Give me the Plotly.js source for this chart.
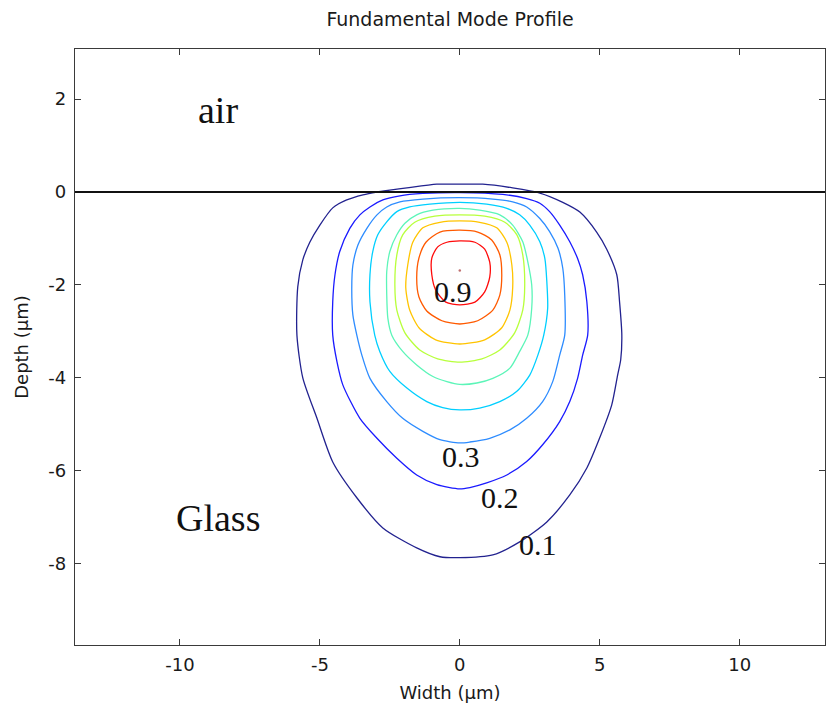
<!DOCTYPE html>
<html>
<head>
<meta charset="utf-8">
<script src="https://cdn.plot.ly/plotly-3.0.1.min.js"></script>
<style>html,body{margin:0;padding:0;background:#fff;}#chart{width:826px;height:712px;}</style>
</head>
<body>
<div id="chart"></div>
<script>
// Contour levels (normalised field of the fundamental mode)
const levels = [0.1, 0.2, 0.3, 0.4, 0.5, 0.6, 0.7, 0.8, 0.9];

// Contour line coordinates (Width µm, Depth µm)
const c1x = [0, 0.82, 1.89, 2.86, 3.68, 4.29, 4.89, 5.25, 5.61, 5.71, 5.79, 5.75, 5.64, 5.43, 5.00, 4.54, 3.93, 3.11, 2.14, 1.18, 0, -0.71, -1.54, -2.75, -3.68, -4.54, -5.11, -5.61, -5.82, -5.79, -5.61, -5.36, -5.00, -4.54, -4.04, -3.46, -2.96, -2.50, -1.89, -0.82, 0];
const c1y = [0.17, 0.17, 0.09, -0.02, -0.22, -0.43, -0.86, -1.23, -1.78, -2.37, -3.08, -3.61, -3.94, -4.58, -5.29, -5.94, -6.52, -7.10, -7.53, -7.81, -7.87, -7.85, -7.66, -7.23, -6.58, -5.81, -4.86, -4.00, -3.08, -2.04, -1.46, -1.08, -0.71, -0.34, -0.17, -0.06, 0.00, 0.04, 0.09, 0.17, 0.17];

const c2x = [0, 1.54, 2.39, 2.86, 3.21, 3.57, 3.93, 4.21, 4.39, 4.54, 4.57, 4.39, 4.21, 3.93, 3.57, 2.96, 2.39, 1.68, 0.96, 0.36, 0, -0.82, -1.54, -2.25, -2.96, -3.57, -4.18, -4.39, -4.54, -4.54, -4.46, -4.29, -3.93, -3.57, -3.21, -2.75, -2.14, -1.32, 0];
const c2y = [-0.01, -0.05, -0.14, -0.24, -0.42, -0.71, -1.07, -1.43, -1.78, -2.36, -3.08, -3.51, -4.01, -4.51, -4.94, -5.44, -5.80, -6.09, -6.26, -6.36, -6.39, -6.30, -6.09, -5.73, -5.30, -4.87, -4.15, -3.65, -3.08, -2.36, -1.78, -1.28, -0.78, -0.49, -0.32, -0.17, -0.08, -0.03, -0.01];

const c3x = [0, 1.18, 1.89, 2.39, 2.86, 3.21, 3.51, 3.68, 3.75, 3.75, 3.57, 3.32, 2.96, 2.39, 1.79, 1.07, 0.36, 0, -0.71, -1.32, -2.04, -2.61, -3.21, -3.50, -3.68, -3.82, -3.86, -3.82, -3.64, -3.32, -2.96, -2.61, -2.14, -1.32, 0];
const c3y = [-0.12, -0.15, -0.21, -0.32, -0.57, -0.85, -1.21, -1.64, -2.22, -3.08, -3.51, -4.08, -4.51, -4.87, -5.12, -5.30, -5.38, -5.40, -5.33, -5.15, -4.87, -4.51, -4.01, -3.51, -3.08, -2.65, -2.07, -1.57, -1.14, -0.78, -0.49, -0.32, -0.21, -0.15, -0.12];

const c4x = [0, 0.96, 1.68, 2.14, 2.50, 2.86, 3.04, 3.11, 3.14, 3.00, 2.79, 2.50, 2.04, 1.43, 0.71, 0, -0.61, -1.18, -1.89, -2.50, -2.86, -3.04, -3.21, -3.21, -3.11, -2.93, -2.61, -2.25, -1.79, -1.07, 0];
const c4y = [-0.22, -0.26, -0.35, -0.49, -0.71, -1.07, -1.43, -1.93, -2.50, -3.08, -3.51, -3.94, -4.29, -4.51, -4.65, -4.69, -4.64, -4.51, -4.22, -3.86, -3.43, -3.08, -2.36, -1.78, -1.28, -0.92, -0.64, -0.42, -0.32, -0.26, -0.22];

const c5x = [0, 0.71, 1.43, 1.89, 2.25, 2.43, 2.57, 2.57, 2.43, 2.14, 1.79, 1.18, 0.61, 0, -0.46, -0.96, -1.54, -2.04, -2.43, -2.57, -2.61, -2.61, -2.50, -2.25, -1.96, -1.54, -0.96, 0];
const c5y = [-0.35, -0.39, -0.49, -0.71, -1.07, -1.50, -2.00, -2.50, -3.08, -3.43, -3.79, -4.01, -4.11, -4.14, -4.08, -3.97, -3.72, -3.43, -3.08, -2.72, -2.22, -1.71, -1.28, -0.92, -0.67, -0.49, -0.39, -0.35];

const c6x = [0, 0.89, 1.61, 2.04, 2.25, 2.32, 2.25, 1.96, 1.43, 0.79, 0, -0.79, -1.43, -1.96, -2.25, -2.32, -2.25, -2.04, -1.61, -0.89, 0];
const c6y = [-0.49, -0.52, -0.65, -0.92, -1.35, -2.00, -2.54, -3.03, -3.40, -3.59, -3.66, -3.59, -3.40, -3.03, -2.54, -2.00, -1.35, -0.92, -0.65, -0.52, -0.49];

const c7x = [0, 0.71, 1.32, 1.68, 1.86, 1.89, 1.79, 1.50, 0.89, 0, -0.86, -1.46, -1.79, -1.93, -1.86, -1.68, -1.32, -0.71, 0];
const c7y = [-0.62, -0.65, -0.77, -1.08, -1.57, -2.06, -2.54, -2.92, -3.18, -3.27, -3.18, -2.92, -2.54, -2.06, -1.57, -1.08, -0.77, -0.65, -0.62];

const c8x = [0, 0.64, 1.14, 1.43, 1.50, 1.43, 1.18, 0.64, 0, -0.64, -1.18, -1.46, -1.54, -1.46, -1.21, -0.71, 0];
const c8y = [-0.82, -0.86, -1.03, -1.35, -1.78, -2.22, -2.54, -2.77, -2.84, -2.77, -2.56, -2.26, -1.85, -1.42, -1.08, -0.86, -0.82];

const c9x = [0, 0.54, 0.89, 1.07, 1.07, 0.89, 0.54, 0, -0.50, -0.86, -1.00, -1.00, -0.79, -0.46, 0];
const c9y = [-1.05, -1.08, -1.23, -1.51, -1.83, -2.15, -2.37, -2.43, -2.37, -2.11, -1.78, -1.42, -1.18, -1.08, -1.05];

// Field maximum
const peakX = [0];
const peakY = [-1.69];

// Contour value labels
const labelText = ['0.9', '0.3', '0.2', '0.1'];
const labelX = [-0.25, 0.04, 1.45, 2.79];
const labelY = [-2.15, -5.70, -6.58, -7.59];

// Region labels
const regionText = ['air', 'Glass'];
const regionX = [-8.64, -8.64];
const regionY = [1.76, -7.01];

// Axis ticks
const xTicks = [-10, -5, 0, 5, 10];
const yTicks = [-8, -6, -4, -2, 0, 2];

// ---- styles ----
const levelColors = ['#22228f', '#1a1aff', '#2d8cff', '#00cfff', '#5cf5b8', '#b8ff3c', '#ffc400', '#ff5a00', '#ff0a0a'];
const sans = 'DejaVu Sans, Liberation Sans, Arial, sans-serif';
const serif = 'Liberation Serif, Times New Roman, serif';

const contourX = [c1x, c2x, c3x, c4x, c5x, c6x, c7x, c8x, c9x];
const contourY = [c1y, c2y, c3y, c4y, c5y, c6y, c7y, c8y, c9y];

const traces = [];
levels.forEach((lv, i) => {
  traces.push({
    type: 'scatter', mode: 'lines',
    x: contourX[i], y: contourY[i],
    name: String(lv),
    line: {color: levelColors[i], width: 1.3, shape: 'spline', smoothing: 0.7},
    hoverinfo: 'skip', showlegend: false
  });
});
traces.push({
  type: 'scatter', mode: 'markers', x: peakX, y: peakY,
  marker: {size: 2.5, color: '#c07070'}, hoverinfo: 'skip', showlegend: false
});

const annotations = [];
labelText.forEach((t, i) => annotations.push({
  x: labelX[i], y: labelY[i], xref: 'x', yref: 'y', text: t, showarrow: false,
  font: {family: serif, size: 30, color: '#111'}
}));
regionText.forEach((t, i) => annotations.push({
  x: regionX[i], y: regionY[i], xref: 'x', yref: 'y', text: t, showarrow: false,
  font: {family: serif, size: 38, color: '#111'}
}));

const axisCommon = {
  showline: true, linecolor: '#3a3a3a', linewidth: 1.3, mirror: 'ticks',
  ticks: 'inside', ticklen: 6, tickwidth: 1, tickcolor: '#3a3a3a',
  showgrid: false, zeroline: false,
  tickfont: {family: sans, size: 18, color: '#1a1a1a'}
};

const layout = {
  width: 826, height: 712,
  margin: {l: 75, r: 1, t: 49, b: 67},
  paper_bgcolor: '#ffffff', plot_bgcolor: '#ffffff',
  font: {family: sans, color: '#1a1a1a'},
  title: {text: 'Fundamental Mode Profile', x: 0.5, xref: 'paper', xanchor: 'center',
          y: 0.973, yref: 'container', yanchor: 'middle',
          font: {family: sans, size: 19, color: '#1a1a1a'}},
  xaxis: Object.assign({}, axisCommon, {
    range: [-13.75, 13.05], tickmode: 'array', tickvals: xTicks,
    ticktext: xTicks.map(String), ticklabelstandoff: 3,
    title: {text: 'Width (μm)', standoff: 12, font: {size: 18, family: sans, color: '#1a1a1a'}}
  }),
  yaxis: Object.assign({}, axisCommon, {
    range: [-9.75, 3.08], tickmode: 'array', tickvals: yTicks,
    ticktext: yTicks.map(String), ticklabelstandoff: 4,
    title: {text: 'Depth (μm)', standoff: 14, font: {size: 18, family: sans, color: '#1a1a1a'}}
  }),
  shapes: [{type: 'line', xref: 'paper', x0: 0, x1: 1, yref: 'y', y0: 0, y1: 0,
            line: {color: '#111111', width: 2}}],
  annotations: annotations,
  showlegend: false
};

Plotly.newPlot('chart', traces, layout, {displayModeBar: false, staticPlot: true});
</script>
</body>
</html>
